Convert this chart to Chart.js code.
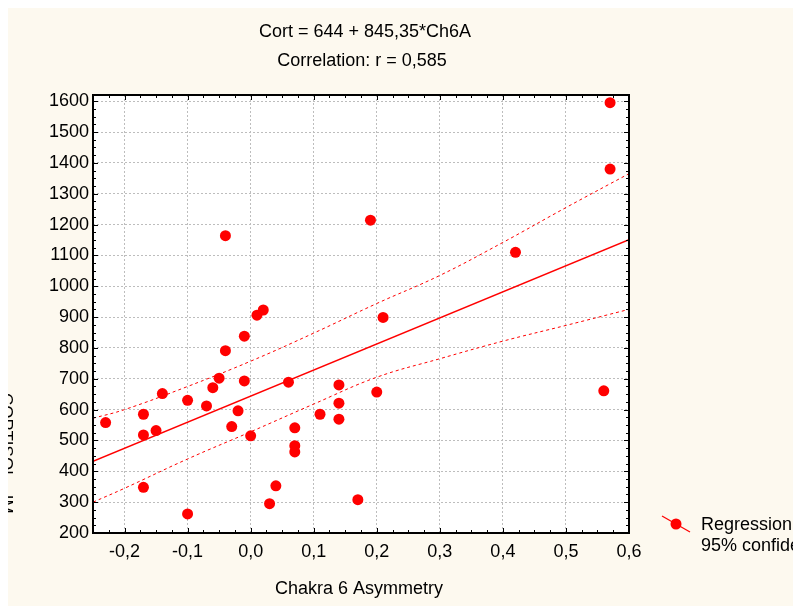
<!DOCTYPE html>
<html>
<head>
<meta charset="utf-8">
<script src="https://cdn.jsdelivr.net/npm/chart.js@4/dist/chart.umd.min.js"></script>
<style>
  body { margin: 0; background: #fff; }
  #c { display: block; }
</style>
</head>
<body>
<canvas id="c" width="793" height="606"></canvas>
<script>
// Chakra 6 asymmetry (x) vs cortisol (y)
var asym = [-0.23, -0.17, -0.17, -0.15, -0.14, -0.17, -0.10, -0.10, -0.07, -0.06,
            -0.05, -0.04, -0.04, -0.01, -0.01, -0.02, -0.03, 0.00, 0.01, 0.02,
            0.06, 0.07, 0.07, 0.07, 0.04, 0.03, 0.11, 0.14, 0.14, 0.14,
            0.17, 0.19, 0.21, 0.20, 0.42, 0.57, 0.57, 0.56]
var cort = [558, 585, 518, 532, 652, 348, 630, 262, 612, 671,
            702, 791, 1164, 838, 693, 596, 545, 515, 906, 923,
            689, 541, 483, 463, 353, 295, 585, 680, 621, 569,
            308, 1214, 899, 657, 1110, 1595, 1380, 661]

// fitted line Cort = 644 + 845,35*Ch6A
var intercept = 644
var slope = 845.35

// 95% confidence band
var bandX = [-0.25, -0.2, -0.1, 0, 0.1, 0.2, 0.3, 0.4, 0.5, 0.6]
var bandUpper = [572, 600, 675, 757, 848, 944, 1035, 1142, 1255, 1365]
var bandLower = [300, 345, 440, 528, 618, 705, 765, 822, 873, 925]

var xTicks = [-0.2, -0.1, 0, 0.1, 0.2, 0.3, 0.4, 0.5, 0.6]
var yTicks = [200, 300, 400, 500, 600, 700, 800, 900, 1000, 1100, 1200, 1300, 1400, 1500, 1600]

var titleLines = ["Cort = 644 + 845,35*Ch6A", "Correlation: r = 0,585"]
var xTitle = "Chakra 6 Asymmetry"
var yTitle = "CORTISOL - IM"
var legendItems = ["Regression", "95% confidence"]

var RED = "#ff0000"
var CREAM = "#fdf9ef"
var FAMILY = "'Liberation Sans', Arial, sans-serif"
var FONT = "18px " + FAMILY

var points = []
for (var i = 0; i < asym.length; i++) points.push({x: asym[i], y: cort[i]})

var xMin = -0.25, xMax = 0.6
var regLine = [
  {x: xMin, y: intercept + slope * xMin},
  {x: xMax, y: intercept + slope * xMax}
]
var upper = [], lower = []
for (var j = 0; j < bandX.length; j++) {
  upper.push({x: bandX[j], y: bandUpper[j]})
  lower.push({x: bandX[j], y: bandLower[j]})
}

function fmt(v) {
  return v.toFixed(1).replace(".", ",")
}

var decor = {
  id: "decor",
  beforeDraw: function(chart) {
    var ctx = chart.ctx, a = chart.chartArea
    ctx.save()
    ctx.fillStyle = "#fff"
    ctx.fillRect(0, 0, chart.width, chart.height)
    ctx.fillStyle = CREAM
    ctx.fillRect(8, 8, chart.width - 8, chart.height - 8)
    ctx.fillStyle = "#fff"
    ctx.fillRect(a.left, a.top, a.right - a.left, a.bottom - a.top)
    ctx.restore()
  },
  afterDraw: function(chart) {
    var ctx = chart.ctx, a = chart.chartArea
    var xs = chart.scales.x, ys = chart.scales.y
    ctx.save()

    // inward tick marks on all four sides
    ctx.strokeStyle = "#000"
    ctx.lineWidth = 1
    ctx.beginPath()
    for (var k = 0; k <= 34; k++) {
      var xv = xMin + k * 0.025
      var px = Math.round(xs.getPixelForValue(xv)) + 0.5
      var major = Math.abs(xv * 10 - Math.round(xv * 10)) < 1e-6
      var len = major ? 5 : 3
      ctx.moveTo(px, a.bottom); ctx.lineTo(px, a.bottom - len)
      ctx.moveTo(px, a.top); ctx.lineTo(px, a.top + len)
    }
    for (var yv = 200; yv <= 1600; yv += 25) {
      var py = Math.round(ys.getPixelForValue(yv)) + 0.5
      var len2 = (yv % 100 === 0) ? 5 : 3
      ctx.moveTo(a.left, py); ctx.lineTo(a.left + len2, py)
      ctx.moveTo(a.right, py); ctx.lineTo(a.right - len2, py)
    }
    ctx.stroke()

    // frame
    ctx.lineWidth = 2
    ctx.strokeRect(a.left, a.top, a.right - a.left, a.bottom - a.top)

    // titles
    ctx.fillStyle = "#000"
    ctx.font = FONT
    ctx.textAlign = "center"
    ctx.textBaseline = "middle"
    ctx.fillText(titleLines[0], 365, 32)
    ctx.fillText(titleLines[1], 362, 61)
    ctx.fillText(xTitle, 359, 589)

    // y axis title, runs off the left edge
    ctx.save()
    ctx.beginPath()
    ctx.rect(8, 0, 100, chart.height)
    ctx.clip()
    ctx.translate(0, 393)
    ctx.rotate(Math.PI / 2)
    ctx.textAlign = "left"
    ctx.textBaseline = "alphabetic"
    ctx.font = "17px " + FAMILY
    ctx.fillText(yTitle, 0, -0.5)
    ctx.restore()

    // legend
    ctx.strokeStyle = RED
    ctx.lineWidth = 1.2
    ctx.beginPath()
    ctx.moveTo(662, 516); ctx.lineTo(690, 532)
    ctx.stroke()
    ctx.fillStyle = RED
    ctx.beginPath()
    ctx.arc(676, 524, 5.5, 0, Math.PI * 2)
    ctx.fill()
    ctx.fillStyle = "#000"
    ctx.textAlign = "left"
    ctx.textBaseline = "middle"
    ctx.fillText(legendItems[0], 701, 525)
    ctx.fillText(legendItems[1], 701, 546)
    ctx.restore()
  }
}

new Chart(document.getElementById("c"), {
  type: "scatter",
  data: {
    datasets: [
      {
        data: points,
        backgroundColor: RED,
        borderWidth: 0,
        pointRadius: 5.5,
        pointHoverRadius: 5.5
      },
      {
        type: "line",
        data: regLine,
        borderColor: RED,
        borderWidth: 1.5,
        pointRadius: 0,
        fill: false
      },
      {
        type: "line",
        data: upper,
        borderColor: RED,
        borderWidth: 1,
        borderDash: [3, 3],
        pointRadius: 0,
        tension: 0.4,
        fill: false
      },
      {
        type: "line",
        data: lower,
        borderColor: RED,
        borderWidth: 1,
        borderDash: [3, 3],
        pointRadius: 0,
        tension: 0.4,
        fill: false
      }
    ]
  },
  options: {
    responsive: false,
    animation: false,
    devicePixelRatio: 1,
    layout: { padding: { left: 0, right: 164, top: 95, bottom: 0 } },
    plugins: {
      legend: { display: false },
      title: { display: false },
      tooltip: { enabled: false }
    },
    scales: {
      x: {
        type: "linear",
        min: xMin,
        max: xMax,
        afterBuildTicks: function(s) { s.ticks = xTicks.map(function(v) { return {value: v} }) },
        afterFit: function(s) { s.height = 73 },
        ticks: {
          color: "#000",
          font: { family: FAMILY, size: 18 },
          padding: 8,
          maxRotation: 0,
          callback: function(v) { return fmt(v) }
        },
        grid: { color: "#bdbdbd", drawTicks: false },
        border: { display: false, dash: [2, 2] }
      },
      y: {
        min: 200,
        max: 1620,
        afterBuildTicks: function(s) { s.ticks = yTicks.map(function(v) { return {value: v} }) },
        afterFit: function(s) { s.width = 93 },
        ticks: {
          color: "#000",
          font: { family: FAMILY, size: 18 },
          padding: 4,
          callback: function(v) { return String(v) }
        },
        grid: { color: "#bdbdbd", drawTicks: false },
        border: { display: false, dash: [2, 2] }
      }
    }
  },
  plugins: [decor]
})
</script>
</body>
</html>
